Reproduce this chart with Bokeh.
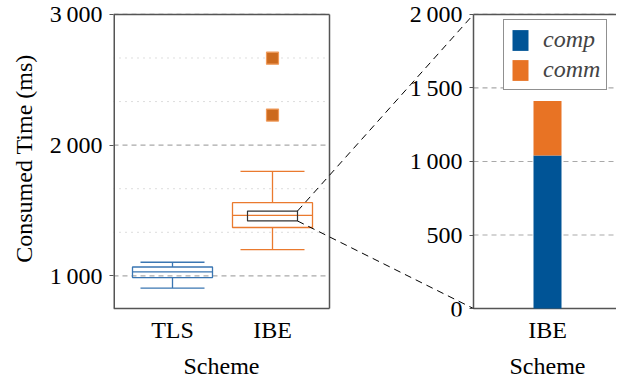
from bokeh.plotting import figure
from bokeh.models import Range1d, LinearAxis, FixedTicker
from bokeh.embed import file_html
from bokeh.resources import INLINE

# ---------------- data ----------------
schemes = ["TLS", "IBE"]
lower_whisker = [907, 1200]
q1 = [987, 1370]
median = [1030, 1463]
q3 = [1068, 1560]
upper_whisker = [1104, 1800]
outlier_scheme = ["IBE", "IBE"]
outlier_values = [2230, 2665]

zoom_low, zoom_high = 1420, 1496  # zoomed window on IBE median

bar_scheme = ["IBE"]
comp = [1040]
comm = [372]

left_y_ticks = [1000, 2000, 3000]
right_y_ticks = [0, 500, 1000, 1500, 2000]

# ---------------- layout / style ----------------
W, H = 616, 381
LEFT_LO, LEFT_HI = 750, 3000      # axis limits of the box plot
RIGHT_LO, RIGHT_HI = 0, 2000      # axis limits of the zoomed bar plot
AXIS_PX = 296                     # pixel height of both axis boxes
PAD_TOP, PAD_BOT = 14, 8          # room kept for the end tick labels
pos = {"TLS": 1.0, "IBE": 2.0}
x_start, left_end = 0.41, 2.57
right_start, bar_x = 4.01, 4.75
x_end = x_start + (W - 113) / 100
left_center = (x_start + left_end) / 2

FONT = "Liberation Serif"
FS = "24px"
AX = "#555555"
GRID = "#a9a9a9"
box_colors = ["#3a76b2", "#ea7a2e"]
comp_color = "#005496"
comm_color = "#e87324"


def fmt(v):
    return f"{v:,}".replace(",", "\u2009")


def padded(lo, hi):
    k = (hi - lo) / AXIS_PX
    return Range1d(lo - PAD_BOT * k, hi + PAD_TOP * k)


def r2l(v):
    return LEFT_LO + (v - RIGHT_LO) / (RIGHT_HI - RIGHT_LO) * (LEFT_HI - LEFT_LO)


p = figure(width=W, height=H, x_range=Range1d(x_start, x_end),
           y_range=padded(LEFT_LO, LEFT_HI), output_backend="svg",
           toolbar_location=None, min_border_left=113, min_border_right=0,
           min_border_top=0, min_border_bottom=H - AXIS_PX - PAD_TOP - PAD_BOT)
p.extra_y_ranges = {"right": padded(RIGHT_LO, RIGHT_HI)}
p.xgrid.visible = False
p.ygrid.visible = False
p.outline_line_color = None
p.border_fill_color = "white"
p.background_fill_color = "white"

# ---------------- grids ----------------
p.segment(x0=x_start, x1=left_end, y0=left_y_ticks, y1=left_y_ticks,
          line_color=GRID, line_width=1.2, line_dash="5 4")
minor = []
for a, b in zip(left_y_ticks[:-1], left_y_ticks[1:]):
    minor += [a + (b - a) / 3, a + 2 * (b - a) / 3]
p.segment(x0=x_start, x1=left_end, y0=minor, y1=minor,
          line_color="#bbbbbb", line_width=1, line_dash="1 5")
rg = [t for t in right_y_ticks if t > RIGHT_LO]
p.segment(x0=right_start, x1=x_end, y0=rg, y1=rg, y_range_name="right",
          line_color=GRID, line_width=1.2, line_dash="5 4")

# ---------------- axis boxes ----------------
p.segment(x0=[x_start, x_start, left_end], x1=[left_end, left_end, left_end],
          y0=[LEFT_LO, LEFT_HI, LEFT_LO], y1=[LEFT_LO, LEFT_HI, LEFT_HI],
          line_color=AX, line_width=1.5)
p.segment(x0=[x_start], x1=[x_start], y0=[LEFT_LO], y1=[LEFT_HI],
          line_color=AX, line_width=3)
p.segment(x0=[right_start, right_start, right_start], x1=[x_end, x_end, right_start],
          y0=[RIGHT_LO, RIGHT_HI, RIGHT_LO], y1=[RIGHT_LO, RIGHT_HI, RIGHT_HI],
          y_range_name="right", line_color=AX, line_width=1.5)

# ---------------- box plots ----------------
xs = [pos[s] for s in schemes]
p.segment(x0=xs, x1=xs, y0=q3, y1=upper_whisker, line_color=box_colors, line_width=1.3)
p.segment(x0=xs, x1=xs, y0=q1, y1=lower_whisker, line_color=box_colors, line_width=1.3)
p.segment(x0=[x - 0.32 for x in xs], x1=[x + 0.32 for x in xs], y0=upper_whisker,
          y1=upper_whisker, line_color=box_colors, line_width=1.3)
p.segment(x0=[x - 0.32 for x in xs], x1=[x + 0.32 for x in xs], y0=lower_whisker,
          y1=lower_whisker, line_color=box_colors, line_width=1.3)
p.quad(left=[x - 0.4 for x in xs], right=[x + 0.4 for x in xs], bottom=q1, top=q3,
       fill_color=None, line_color=box_colors, line_width=1.3)
p.segment(x0=[x - 0.4 for x in xs], x1=[x + 0.4 for x in xs], y0=median, y1=median,
          line_color=box_colors, line_width=1.3)
p.scatter(x=[pos[s] for s in outlier_scheme], y=outlier_values, marker="square",
          size=12, fill_color="#cc6a1e", line_color="#f09a5a", line_width=1.2)

# zoom window and connectors
zx = pos["IBE"]
p.quad(left=[zx - 0.25], right=[zx + 0.25], bottom=[zoom_low], top=[zoom_high],
       fill_color=None, line_color="#333333", line_width=1.2)
p.segment(x0=[zx + 0.25, zx + 0.25], y0=[zoom_high, zoom_low],
          x1=[right_start, right_start], y1=[r2l(RIGHT_HI), r2l(RIGHT_LO)],
          line_color="black", line_width=1, line_dash="7 5")

# ---------------- stacked bar ----------------
bx = [bar_x for _ in bar_scheme]
p.vbar(x=bx, width=0.28, bottom=0, top=comp, y_range_name="right",
       fill_color=comp_color, line_color=None, legend_label="comp")
p.vbar(x=bx, width=0.28, bottom=comp, top=[a + b for a, b in zip(comp, comm)],
       y_range_name="right", fill_color=comm_color, line_color=None, legend_label="comm")

leg = p.legend[0]
leg.location = (390, 226)
leg.margin = 0
leg.padding = 6
leg.spacing = 3
leg.glyph_width = 20
leg.glyph_height = 26
leg.label_standoff = 13
leg.label_text_font = FONT
leg.label_text_font_style = "italic"
leg.label_text_font_size = FS
leg.border_line_color = "#222222"
leg.border_line_width = 1.2
leg.background_fill_alpha = 1


def style_axis(ax):
    ax.major_label_text_font = FONT
    ax.major_label_text_font_size = FS
    ax.major_label_text_color = "black"
    ax.axis_label_text_font = FONT
    ax.axis_label_text_font_size = FS
    ax.axis_label_text_font_style = "normal"
    ax.axis_label_text_color = "black"
    ax.axis_line_color = None
    ax.major_tick_line_color = AX
    ax.major_tick_line_width = 1.2
    ax.minor_tick_line_color = None


# left y axis
yax = p.yaxis[0]
style_axis(yax)
yax.ticker = FixedTicker(ticks=left_y_ticks, minor_ticks=[])
yax.major_label_overrides = {t: fmt(t) for t in left_y_ticks}
yax.axis_label = "Consumed Time (ms)"
yax.major_tick_out = 4
yax.major_tick_in = 0
yax.major_label_standoff = 7
yax.axis_label_standoff = 10

# y axis of the zoomed bar plot
rax = LinearAxis(y_range_name="right", fixed_location=right_start)
style_axis(rax)
rax.ticker = FixedTicker(ticks=right_y_ticks, minor_ticks=[])
rax.major_label_overrides = {t: fmt(t) for t in right_y_ticks}
rax.major_tick_out = 4
rax.major_tick_in = 0
rax.major_label_standoff = 7
p.add_layout(rax, "left")

# x axis with category labels
xax = p.xaxis[0]
style_axis(xax)
xticks = xs + bx
xax.ticker = FixedTicker(ticks=xticks, minor_ticks=[])
xax.major_label_overrides = {t: lab for t, lab in zip(xticks, schemes + bar_scheme)}
xax.major_tick_line_color = None
xax.major_tick_out = 0
xax.major_label_standoff = 0

# second x axis carrying the "Scheme" titles
sax = LinearAxis(ticker=FixedTicker(ticks=[left_center, bar_x], minor_ticks=[]))
style_axis(sax)
sax.major_label_overrides = {left_center: "Scheme", bar_x: "Scheme"}
sax.major_tick_line_color = None
sax.major_tick_out = 0
sax.major_label_standoff = 7
p.add_layout(sax, "below")

open("out.html", "w").write(file_html(p, INLINE))
